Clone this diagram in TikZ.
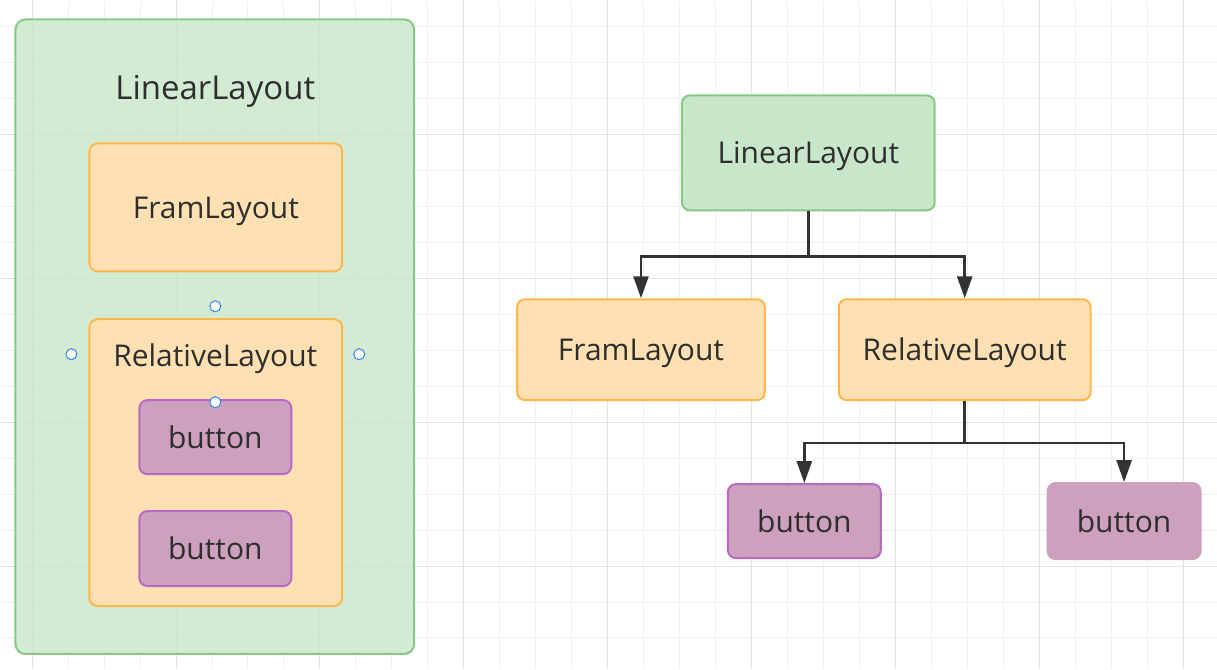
\documentclass[tikz,border=0pt]{standalone}
\usepackage{fontspec}
\setmainfont{Open Sans}
\usetikzlibrary{arrows.meta}
\definecolor{gridminor}{HTML}{F0F0F0}
\definecolor{gridmajor}{HTML}{E3E3E3}
\definecolor{linfill}{HTML}{C8E6C9}
\definecolor{lindraw}{HTML}{86C987}
\definecolor{framfill}{HTML}{FFE0B2}
\definecolor{framdraw}{HTML}{FFB74D}
\definecolor{btnfill}{HTML}{CDA1BE}
\definecolor{btndraw}{HTML}{BA68C8}
\definecolor{textgray}{HTML}{2E2E2E}
\definecolor{linkgray}{HTML}{333333}
\definecolor{handleblue}{HTML}{2F86F0}
\begin{document}
\begin{tikzpicture}[x=1pt,y=-1pt,
    box/.style={rectangle,rounded corners=8pt,line width=2pt,inner sep=0pt,
      text=textgray,font=\fontsize{30}{36}\selectfont,text depth=0pt,text height=22pt},
    linbox/.style={box,draw=lindraw,fill=linfill},
    frambox/.style={box,draw=framdraw,fill=framfill},
    btnbox/.style={box,draw=btndraw,fill=btnfill},
    label/.style={inner sep=0pt,text=textgray,font=\fontsize{30}{36}\selectfont,text depth=0pt,text height=22pt},
    handle/.style={circle,draw=handleblue,fill=white,line width=1pt,
      minimum size=11pt,inner sep=0pt},
    link/.style={draw=linkgray,line width=2.5pt,-{Triangle[length=22pt,width=15pt]}}]
    % Background grid
    \fill[white] (0,0) rectangle (1217,669);
    \foreach \gx in {0,...,32} \draw[gridminor,line width=1pt] (31.7+36*\gx,0) -- (31.7+36*\gx,669);
    \foreach \gy in {0,...,17} \draw[gridminor,line width=1pt] (0,26+36*\gy) -- (1217,26+36*\gy);
    \foreach \gx in {0,...,8} \draw[gridmajor,line width=1pt] (31.7+144*\gx,0) -- (31.7+144*\gx,669);
    \foreach \gy in {0,...,3} \draw[gridmajor,line width=1pt] (0,134+144*\gy) -- (1217,134+144*\gy);
    % Define the nested layout on the left
    \node[linbox,fill opacity=0.8,rounded corners=10pt,minimum width=399pt,minimum height=635pt] (outer) at (214.5,336.5) {};
    \node[label,font=\fontsize{33}{40}\selectfont,text height=24pt] (outerTitle) at (215,87) {LinearLayout};
    \node[frambox,minimum width=253pt,minimum height=128pt] (framL) at (215.5,207) {FramLayout};
    \node[frambox,minimum width=253pt,minimum height=287pt] (relL) at (215.5,462.5) {};
    \node[label] (relTitle) at (215,355) {RelativeLayout};
    \node[btnbox,minimum width=152pt,minimum height=74pt] (btnLa) at (215,437) {button};
    \node[btnbox,minimum width=152pt,minimum height=75pt] (btnLb) at (215,548.5) {button};
    \node[handle] (hTop)    at (215,306) {};
    \node[handle] (hLeft)   at (71,354)  {};
    \node[handle] (hRight)  at (359,354) {};
    \node[handle] (hBottom) at (215,402) {};
    % Define the nodes for the tree
    \node[linbox,minimum width=253pt,minimum height=115pt] (lin) at (808.5,152.5) {LinearLayout};
    \node[frambox,minimum width=248pt,minimum height=101pt] (fram) at (641,349.5) {FramLayout};
    \node[frambox,minimum width=252pt,minimum height=101pt] (rel) at (965,349.5) {RelativeLayout};
    \node[btnbox,minimum width=153pt,minimum height=74pt] (btnA) at (804.5,521) {button};
    \node[btnbox,draw=btnfill,minimum width=153pt,minimum height=76pt] (btnB) at (1124.5,521) {button};
    % Connect the nodes for the tree
    \draw[link] (lin.south) -- ++(0,45) -| (fram.north);
    \draw[link] (lin.south) -- ++(0,45) -| (rel.north);
    \draw[link] (rel.south) -- ++(0,42) -| (btnA.north);
    \draw[link] (rel.south) -- ++(0,42) -| (btnB.north);
\end{tikzpicture}
\end{document}
